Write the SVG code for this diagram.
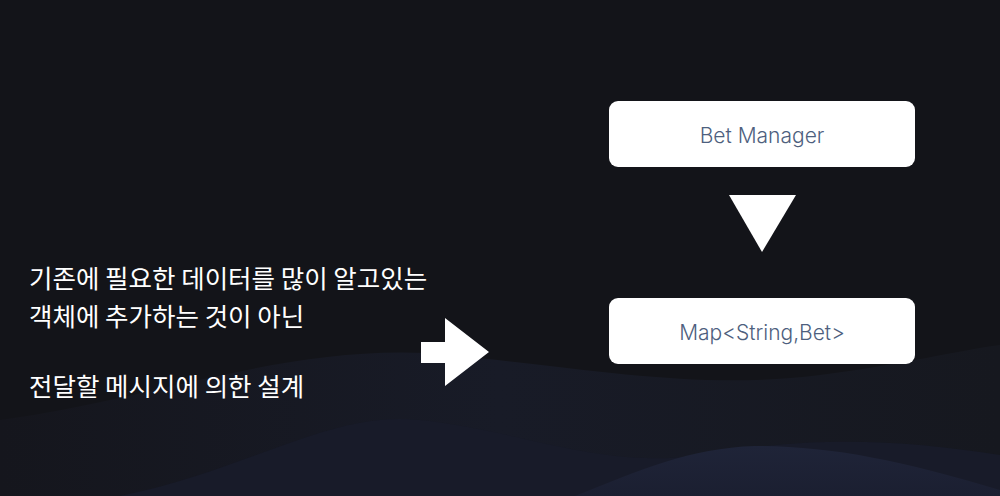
<svg xmlns="http://www.w3.org/2000/svg" width="1000" height="496" viewBox="0 0 1000 496">
  <defs>
    <linearGradient id="wave1" x1="0" y1="0" x2="1" y2="0">
      <stop offset="0" stop-color="#15161d"/>
      <stop offset="0.5" stop-color="#181b27"/>
      <stop offset="1" stop-color="#16181f"/>
    </linearGradient>
    <linearGradient id="wave2" x1="0" y1="0" x2="0" y2="1">
      <stop offset="0" stop-color="#1f2438"/>
      <stop offset="1" stop-color="#1b1f31"/>
    </linearGradient>
    <style>
      .node rect { fill: #ffffff; }
      .node text { font-family: Inter, "Noto Sans", sans-serif; font-size: 21px; font-weight: 300; fill: #4e5f7e; text-anchor: middle; }
      .note { font-family: "Noto Sans CJK KR", "Noto Sans", sans-serif; font-size: 25.5px; fill: #ffffff; }
      .shape { fill: #ffffff; }
    </style>
  </defs>
  <rect x="0" y="0" width="1000" height="496" fill="#131419"/>
  <path d="M0,420 C150,400 300,340 450,355 C600,370 700,390 820,375 C900,365 960,350 1000,345 L1000,496 L0,496 Z" fill="url(#wave1)"/>
  <path d="M120,496 C250,470 330,410 420,420 C520,430 600,470 700,455 C820,435 900,440 1000,455 L1000,496 Z" fill="#181b29"/>
  <path d="M575,496 C640,470 690,448 755,446 C830,446 900,460 1000,490 L1000,496 Z" fill="url(#wave2)"/>

  <g id="note">
    <text class="note" x="29" y="288">기존에 필요한 데이터를 많이 알고있는</text>
    <text class="note" x="29" y="326">객체에 추가하는 것이 아닌</text>
    <text class="note" x="29" y="396">전달할 메시지에 의한 설계</text>
  </g>

  <g id="bet-manager" class="node">
    <rect x="609" y="101" width="306" height="66" rx="9"/>
    <text x="762" y="143">Bet Manager</text>
  </g>
  <g id="map" class="node">
    <rect x="609" y="298" width="306" height="66" rx="9"/>
    <text x="762" y="340">Map&lt;String,Bet&gt;</text>
  </g>

  <g id="connectors">
    <polygon class="shape" points="729,195 796,195 762,252"/>
    <polygon class="shape" points="421,342 445,342 445,318 489,352 445,386 445,363 421,363"/>
  </g>
</svg>
